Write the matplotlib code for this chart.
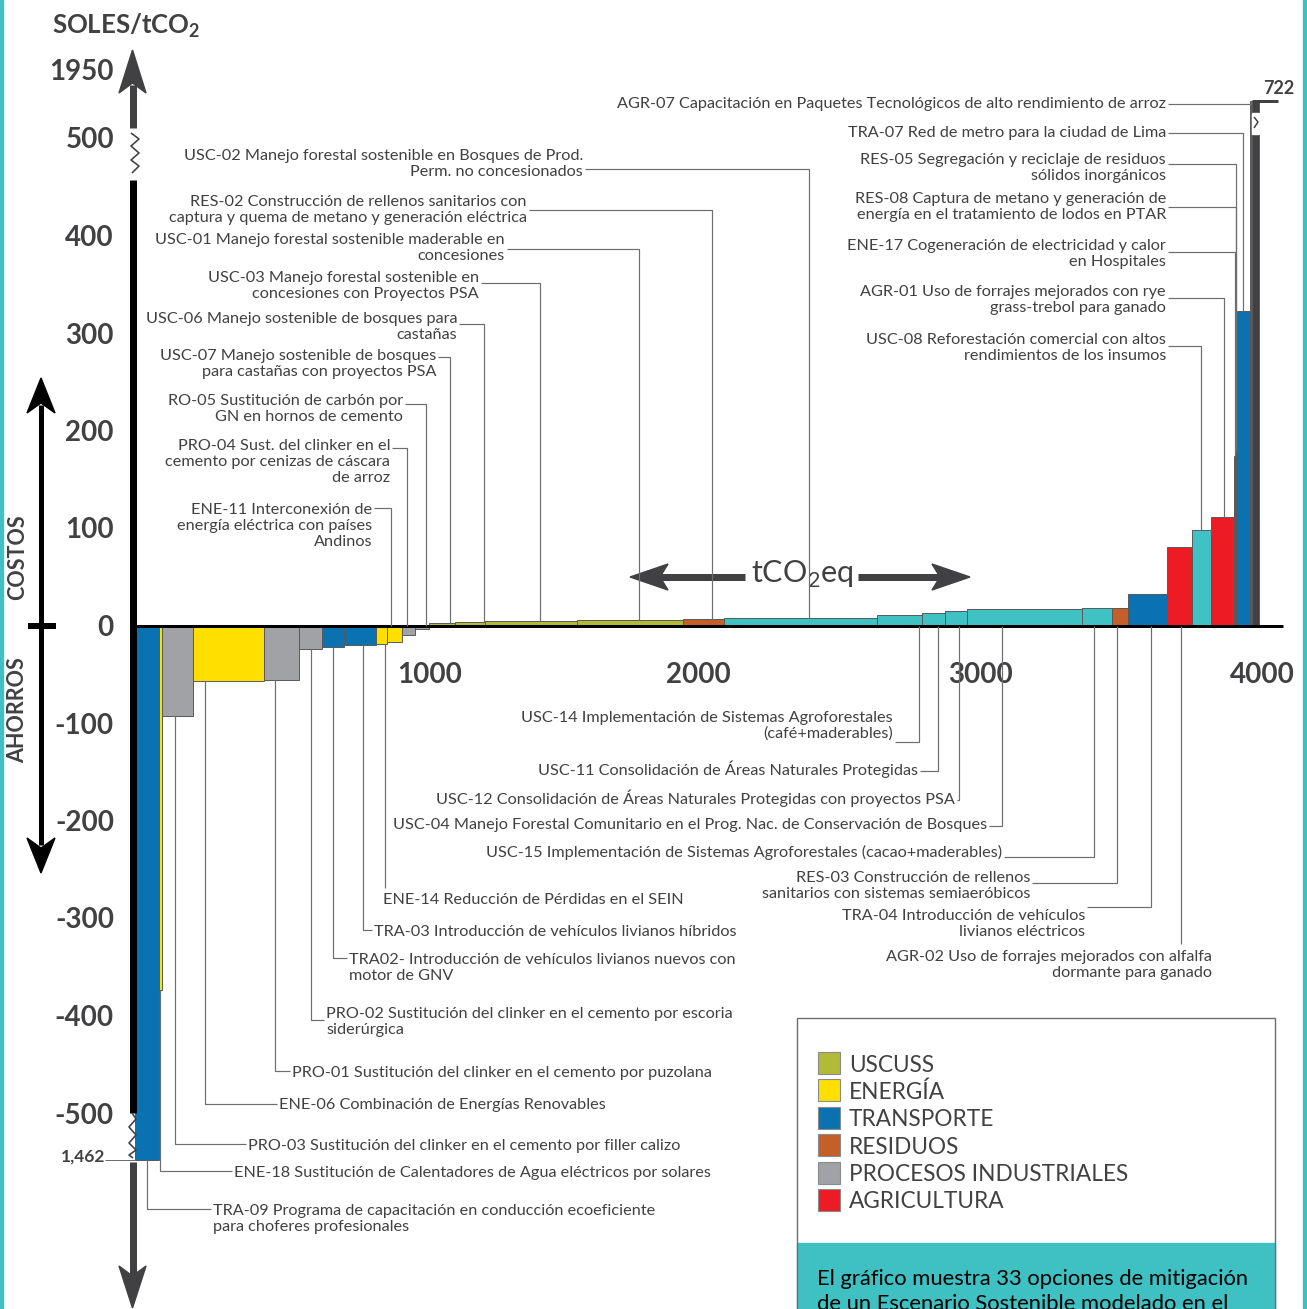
import numpy as np
import matplotlib
matplotlib.use("Agg")
import matplotlib.pyplot as plt
from matplotlib.patches import Rectangle, Polygon
from matplotlib.transforms import Affine2D

W, H = 1307, 1309
DARK = '#414042'
LEAD = '#6d6e71'
TEAL = '#3fc1c3'

plt.rcParams['font.family'] = ['Lato', 'DejaVu Sans']
plt.rcParams['mathtext.fontset'] = 'custom'
plt.rcParams['mathtext.rm'] = 'Lato'
plt.rcParams['mathtext.bf'] = 'Lato:bold'

# --- datos: opciones de mitigación en orden de costo ---
codes = ['TRA-09', 'ENE-18', 'PRO-03', 'ENE-06', 'PRO-01', 'PRO-02', 'TRA02', 'TRA-03', 'ENE-14',
         'ENE-11', 'PRO-04', 'RO-05', 'USC-07', 'USC-06', 'USC-03', 'USC-01', 'RES-02', 'USC-02',
         'USC-14', 'USC-11', 'USC-12', 'USC-04', 'USC-15', 'RES-03', 'TRA-04', 'AGR-02', 'USC-08',
         'AGR-01', 'ENE-17', 'RES-08', 'RES-05', 'TRA-07', 'AGR-07', 'X']
potencial = [85, 10, 110, 253, 124, 82, 76, 115, 39,
             55, 43, 50, 94, 106, 325, 378, 144, 543,
             161, 82, 79, 405, 109, 57, 136, 89, 67,
             83, 4, 3, 3, 47, 6, 26]
costo = [-1462, -373, -92, -56, -55, -24, -22, -19, -18,
         -16, -9, -3.4, 3.5, 4, 5, 6, 7, 8.5,
         11, 13, 15, 17, 18, 18, 32.5, 81, 98.5,
         112, 174, 178, 182, 323, 722, 1950]
sector = ['TRA', 'ENE', 'PRO', 'ENE', 'PRO', 'PRO', 'TRA', 'TRA', 'ENE',
          'ENE', 'PRO', 'PRO', 'USC', 'USC', 'USC', 'USC', 'RES', 'USB',
          'USB', 'USB', 'USB', 'USB', 'USB', 'RES', 'TRA', 'AGR', 'USB',
          'AGR', 'AGR', 'RES', 'RES', 'TRA', 'AGR', 'OTR']

labels = {
    'TRA-09': 'TRA-09 Programa de capacitación en conducción ecoeficiente\npara choferes profesionales',
    'ENE-18': 'ENE-18 Sustitución de Calentadores de Agua eléctricos por solares',
    'PRO-03': 'PRO-03 Sustitución del clinker en el cemento por filler calizo',
    'ENE-06': 'ENE-06 Combinación de Energías Renovables',
    'PRO-01': 'PRO-01 Sustitución del clinker en el cemento por puzolana',
    'PRO-02': 'PRO-02 Sustitución del clinker en el cemento por escoria\nsiderúrgica',
    'TRA02': 'TRA02- Introducción de vehículos livianos nuevos con\nmotor de GNV',
    'TRA-03': 'TRA-03 Introducción de vehículos livianos híbridos',
    'ENE-14': 'ENE-14 Reducción de Pérdidas en el SEIN',
    'ENE-11': 'ENE-11 Interconexión de\nenergía eléctrica con países\nAndinos',
    'PRO-04': 'PRO-04 Sust. del clinker en el\ncemento por cenizas de cáscara\nde arroz',
    'RO-05': 'RO-05 Sustitución de carbón por\nGN en hornos de cemento',
    'USC-07': 'USC-07 Manejo sostenible de bosques\npara castañas con proyectos PSA',
    'USC-06': 'USC-06 Manejo sostenible de bosques para\ncastañas',
    'USC-03': 'USC-03 Manejo forestal sostenible en\nconcesiones con Proyectos PSA',
    'USC-01': 'USC-01 Manejo forestal sostenible maderable en\nconcesiones',
    'RES-02': 'RES-02 Construcción de rellenos sanitarios con\ncaptura y quema de metano y generación eléctrica',
    'USC-02': 'USC-02 Manejo forestal sostenible en Bosques de Prod.\nPerm. no concesionados',
    'USC-14': 'USC-14 Implementación de Sistemas Agroforestales\n(café+maderables)',
    'USC-11': 'USC-11 Consolidación de Áreas Naturales Protegidas',
    'USC-12': 'USC-12 Consolidación de Áreas Naturales Protegidas con proyectos PSA',
    'USC-04': 'USC-04 Manejo Forestal Comunitario en el Prog. Nac. de Conservación de Bosques',
    'USC-15': 'USC-15 Implementación de Sistemas Agroforestales (cacao+maderables)',
    'RES-03': 'RES-03 Construcción de rellenos\nsanitarios con sistemas semiaeróbicos',
    'TRA-04': 'TRA-04 Introducción de vehículos\nlivianos eléctricos',
    'AGR-02': 'AGR-02 Uso de forrajes mejorados con alfalfa\ndormante para ganado',
    'USC-08': 'USC-08 Reforestación comercial con altos\nrendimientos de los insumos',
    'AGR-01': 'AGR-01 Uso de forrajes mejorados con rye\ngrass-trebol para ganado',
    'ENE-17': 'ENE-17 Cogeneración de electricidad y calor\nen Hospitales',
    'RES-08': 'RES-08 Captura de metano y generación de\nenergía en el tratamiento de lodos en PTAR',
    'RES-05': 'RES-05 Segregación y reciclaje de residuos\nsólidos inorgánicos',
    'TRA-07': 'TRA-07 Red de metro para la ciudad de Lima',
    'AGR-07': 'AGR-07 Capacitación en Paquetes Tecnológicos de alto rendimiento de arroz',
}

x_ticks = [1000, 2000, 3000, 4000]
y_ticks = [500, 400, 300, 200, 100, 0, -100, -200, -300, -400, -500]

legend_names = ['USCUSS', 'ENERGÍA', 'TRANSPORTE', 'RESIDUOS', 'PROCESOS INDUSTRIALES', 'AGRICULTURA']
legend_keys = ['USC', 'ENE', 'TRA', 'RES', 'PRO', 'AGR']

colors = {'USC': '#b1bb38', 'USB': '#40c1c3', 'ENE': '#ffdf00', 'TRA': '#0a72b0',
          'RES': '#c55f29', 'PRO': '#a1a2a5', 'AGR': '#ed1c24', 'OTR': DARK}

# --- figura: un eje que ocupa todo el lienzo ---
PX, PY = 0.2818, 0.975          # pixeles por unidad
fig = plt.figure(figsize=(W / 100, H / 100), dpi=100)
ax = fig.add_axes([0, 0, 1, 1])
ax.set_xlim(-135 / PX, (W - 135) / PX)
ax.set_ylim((626 - H) / PY, 626 / PY)
ax.set_autoscale_on(False)
ax.axis('off')

T = Affine2D().scale(1, -1).translate(0, H)   # coordenadas en pixeles desde arriba


def to_px(x, y):
    d = ax.transData.transform((x, y))
    return d[0], H - d[1]


def line(xs, ys, color=LEAD, lw=1.2, z=3):
    ax.plot(xs, ys, color=color, lw=lw * 0.72, transform=T, clip_on=False,
            solid_capstyle='butt', zorder=z)


def txt(x, y, s, size=11, ha='left', color=DARK, weight='normal', **kw):
    # +2 px: el centro 'center' de matplotlib queda algo alto
    ax.text(x, y + 2, s, fontsize=size, ha=ha, va='center', color=color,
            weight=weight, transform=T, **kw)


# barras
pot = np.array(potencial, dtype=float)
left = np.concatenate([[0], np.cumsum(pot)[:-1]])
shown = np.clip(costo, -548, 538)
bar_cols = [colors[s] for s in sector]
ax.bar(left, shown, width=pot, align='edge', color=bar_cols,
       edgecolor='#58595b', linewidth=0.7, zorder=2)

# corte en la barra más alta
line([1251.5, 1278], [101, 101], color=DARK, lw=3, z=4)
ax.add_patch(Rectangle((1251.8, 113), 7.5, 21, transform=T, color='white', zorder=4))
line([1254, 1258, 1254], [117, 122, 128], color=DARK, lw=1.5, z=5)
txt(1279, 87, '722', size=13, ha='center', weight='bold')

# eje x
line([130, 1283], [626, 626], color='black', lw=3, z=3)
for v in x_ticks:
    px, _ = to_px(v, 0)
    txt(px + (13 if v == 1000 else 0), 673, str(v), size=20, ha='center', weight='bold')

# eje y
line([132.5, 132.5], [180, 1113], color='black', lw=7, z=3)
line([132.5, 132.5], [128, 85], color=DARK, lw=7, z=3)
ax.add_patch(Polygon([(132.5, 50), (119, 93), (132.5, 83), (146, 93)], closed=True,
                     transform=T, color=DARK, zorder=3))
line([132.5, 132.5], [1162, 1282], color=DARK, lw=7, z=3)
ax.add_patch(Polygon([(132.5, 1308), (119, 1266), (132.5, 1276), (146, 1266)], closed=True,
                     transform=T, color=DARK, zorder=3))
line([131, 139, 131, 139, 131, 139, 132], [133, 139, 146, 153, 160, 166, 173], color=DARK, lw=1.6)
line([132, 136, 129, 136, 129, 136, 129, 133], [1113, 1119, 1127, 1135, 1143, 1150, 1155, 1158],
     color=DARK, lw=1.6)

txt(114, 70, '1950', size=20, ha='right', weight='bold')
for v in y_ticks:
    _, py = to_px(0, v)
    txt(114, py, str(v), size=20, ha='right', weight='bold')
txt(52, 24, r'SOLES/tCO$_\mathbf{2}$', size=18.5, weight='bold')

# valor truncado de TRA-09
_, by = to_px(0, shown[0])
txt(105, 1155, '1,462', size=12.5, ha='right', weight='bold')
line([105, 135], [by, by], color=LEAD, lw=1)

# flecha COSTOS / AHORROS
line([41, 41], [405, 845], color='black', lw=5)
ax.add_patch(Polygon([(41, 378), (27, 413), (41, 403), (55, 413)], closed=True, transform=T,
                     color='black', zorder=3))
ax.add_patch(Polygon([(41, 873), (27, 838), (41, 848), (55, 838)], closed=True, transform=T,
                     color='black', zorder=3))
line([28, 56], [626, 626], color='black', lw=6)
txt(18, 555, 'COSTOS', size=15.5, ha='center', weight='bold', rotation=90)
txt(18, 708, 'AHORROS', size=15.5, ha='center', weight='bold', rotation=90)

# flecha tCO2eq
line([660, 745], [577, 577], color=DARK, lw=7)
line([858, 940], [577, 577], color=DARK, lw=7)
ax.add_patch(Polygon([(630, 577), (668, 564), (660, 577), (668, 590)], closed=True,
                     transform=T, color=DARK, zorder=3))
ax.add_patch(Polygon([(970, 577), (932, 564), (940, 577), (932, 590)], closed=True,
                     transform=T, color=DARK, zorder=3))
txt(802, 572, r'tCO$_2$eq', size=22, ha='center')

# --- etiquetas ---
LS = 16
FS = 11.7
# (código, borde del texto, y primera línea, y del codo, fracción del ancho)
top_left = [('USC-02', 583, 154, 169, 0.56), ('RES-02', 527, 200, 210, 0.7),
            ('USC-01', 505, 238, 249, 0.59), ('USC-03', 479, 276, 283, 0.6),
            ('USC-06', 457, 317, 324, 0.97), ('USC-07', 436, 354, 357, 0.8),
            ('RO-05', 403, 399, 404, 0.78), ('PRO-04', 390, 444, 448, 0.4),
            ('ENE-11', 372, 508, 508, 0.25)]
top_right = [('AGR-07', 1166, 102, 104, 0.5), ('TRA-07', 1166, 131, 133, 0.5),
             ('RES-05', 1166, 158, 164, 0.5), ('RES-08', 1166, 197, 207, 0.5),
             ('ENE-17', 1166, 244, 252, 0.5), ('AGR-01', 1166, 290, 298, 0.57),
             ('USC-08', 1166, 338, 346, 0.5)]
bottom_left = [('ENE-14', 383, 898, None, 0.8), ('TRA-03', 374, 930, 930, 0.6),
               ('TRA02', 349, 958, 958, 0.5), ('PRO-02', 326, 1012, 1020, 0.5),
               ('PRO-01', 292, 1071, 1071, 0.31), ('ENE-06', 279, 1103, 1104, 0.17),
               ('PRO-03', 248, 1144, 1144, 0.42), ('ENE-18', 234, 1171, 1171, 0.5),
               ('TRA-09', 213, 1209, 1209, 0.5)]
bottom_right = [('USC-14', 893, 716, 742, 0.93), ('USC-11', 918, 767, 771, 0.7),
                ('USC-12', 955, 796, 800, 0.6), ('USC-04', 987, 823, 826, 0.3),
                ('USC-15', 1002, 850, 857, 0.42), ('RES-03', 1030, 876, 883, 0.3),
                ('TRA-04', 1085, 914, 907, 0.58), ('AGR-02', 1212, 955, None, 0.56)]


def draw_label(item, ha):
    code, tx, ty, ey, frac = item
    for i, s in enumerate(labels[code].split('\n')):
        txt(tx, ty + i * LS, s, size=FS, ha=ha)
    return codes.index(code), frac, tx, ey


for item in top_left + top_right:
    i, frac, tx, ey = draw_label(item, 'right')
    bx, btop = to_px(left[i] + pot[i] * frac, max(shown[i], 0))
    line([tx + 2, bx, bx], [ey, ey, btop])

for item in bottom_left:
    i, frac, tx, ey = draw_label(item, 'left')
    bx, bbot = to_px(left[i] + pot[i] * frac, min(shown[i], 0))
    if ey is None:
        line([bx, bx], [bbot, 888])
    else:
        line([bx, bx, tx - 2], [bbot, ey, ey])

for item in bottom_right:
    i, frac, tx, ey = draw_label(item, 'right')
    bx, b0 = to_px(left[i] + pot[i] * frac, 0)
    if ey is None:
        line([bx, bx], [b0, 944])
    else:
        line([tx + 2, bx, bx], [ey, ey, b0])

# --- leyenda ---
ax.add_patch(Rectangle((797, 1243), 478, 80, transform=T, color=TEAL, zorder=1, clip_on=False))
ax.add_patch(Rectangle((797, 1018), 478, 300, transform=T, fill=False, edgecolor='#6d6e71',
                       lw=1, zorder=2, clip_on=False))
for k, (name, key) in enumerate(zip(legend_names, legend_keys)):
    cy = 1063 + k * 27.4
    ax.add_patch(Rectangle((818, cy - 11), 22, 22, transform=T, facecolor=colors[key],
                           edgecolor='#8a8b8d', lw=0.8, zorder=3))
    txt(849, cy, name, size=16.3)
txt(817, 1277, 'El gráfico muestra 33 opciones de mitigación', size=15.8, color='black')
txt(817, 1302, 'de un Escenario Sostenible modelado en el', size=15.8, color='black')

# bordes laterales
ax.add_patch(Rectangle((0, 0), 3, H, transform=T, color=TEAL, zorder=5, clip_on=False))
ax.add_patch(Rectangle((1303, 0), 4, H, transform=T, color=TEAL, zorder=5, clip_on=False))

fig.savefig('out.png', dpi=100)
